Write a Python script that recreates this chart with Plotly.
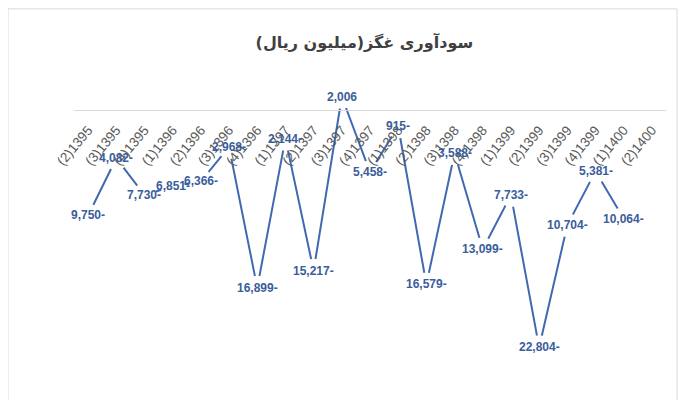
import plotly.graph_objects as go

quarters = ['(2)1395', '(3)1395', '(4)1395', '(1)1396', '(2)1396', '(3)1396', '(4)1396',
            '(1)1397', '(2)1397', '(3)1397', '(4)1397', '(1)1398', '(2)1398', '(3)1398',
            '(4)1398', '(1)1399', '(2)1399', '(3)1399', '(4)1399', '(1)1400', '(2)1400']
profit = [-9750, -4082, -7730, -6851, -6366, -2968, -16899, -2144, -15217, 2006,
          -5458, -915, -16579, -3588, -13099, -7733, -22804, -10704, -5381, -10064, None]

title = 'سودآوری غگز(میلیون ریال)'


def fmt(v):
    # Excel RTL style: minus sign trailing
    return f'{abs(v):,}-' if v < 0 else f'{v:,}'


fig = go.Figure()
# white markers hide the line around each label, like Excel's label box
fig.add_trace(go.Scatter(x=quarters, y=profit, mode='lines+markers',
                         line=dict(color='#4169B0', width=2),
                         marker=dict(color='white', size=24, symbol='circle'),
                         connectgaps=False, hoverinfo='x+y'))

for q, v in zip(quarters, profit):
    if v is None:
        continue
    fig.add_annotation(x=q, y=v, text=fmt(v), showarrow=False,
                       font=dict(family='Liberation Sans', size=12, color='#3A5D9C', weight='bold'))

# chart border
fig.add_shape(type='rect', xref='paper', yref='paper',
              x0=-0.1115, x1=1.0186, y0=-0.2, y1=1.165,
              line=dict(color='#D9D9D9', width=1), layer='below')

# page body has an 8px margin, so the figure is a bit smaller than the window
fig.update_layout(
    width=692, height=392,
    margin=dict(l=66, r=34, t=52, b=30),
    paper_bgcolor='white', plot_bgcolor='white',
    showlegend=False,
    title=dict(text=title, x=0.515, xanchor='center', y=0.911, yanchor='middle',
               font=dict(family='DejaVu Sans', size=16, color='#404040', weight='bold')),
    xaxis=dict(type='category', range=[-0.5, 20.5], anchor='free', position=0.8387,
               showline=True, linecolor='#D9D9D9', linewidth=1,
               showgrid=False, zeroline=False, ticks='', tickangle=-50,
               ticklabelstandoff=6,
               tickfont=dict(family='Liberation Sans', size=13.5, color='#595959')),
    yaxis=dict(range=[-25050, 5644], visible=False, showgrid=False, zeroline=False),
)

fig.write_html('out.html')
